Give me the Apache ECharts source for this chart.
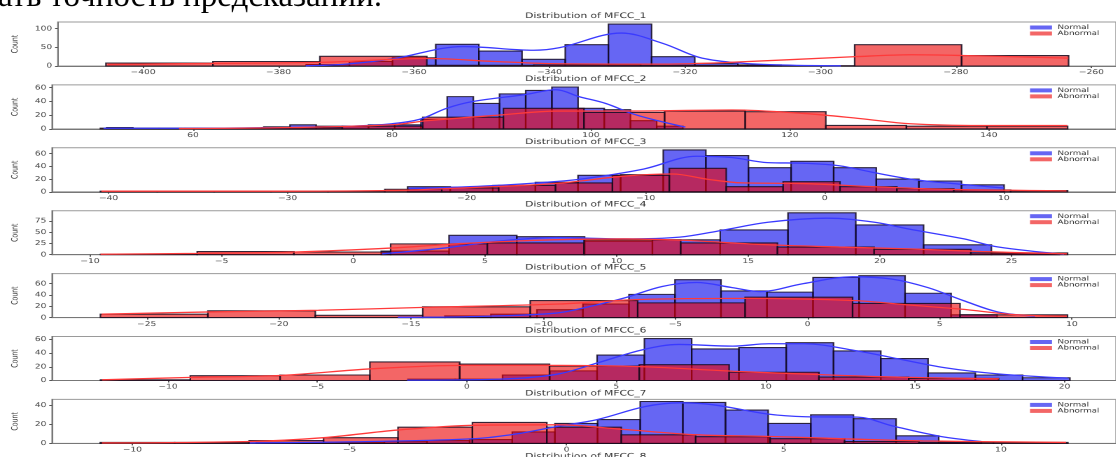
<!DOCTYPE html>
<html><head><meta charset="utf-8">
<script src="https://cdn.jsdelivr.net/npm/echarts@6/dist/echarts.min.js"></script>
<style>html,body{margin:0;padding:0;background:#fff;overflow:hidden;width:1116px;height:457px}#c{height:457px;transform-origin:0 0}</style>
</head><body><div id="c"></div>
<script>
// ---------- data ----------
const classNames = ['Normal', 'Abnormal'];
const headerText = 'ать точность предсказаний.';

const mfcc1XRange = [-412.58, -256.37];
const mfcc1XTicks = [-400, -380, -360, -340, -320, -300, -280, -260];
const mfcc1YMax = 117.6;
const mfcc1YTicks = [0, 50, 100];
const mfcc1NormalBins = [-375.92, 6.374];
const mfcc1NormalCounts = [4, 12, 22, 58, 40, 18, 57, 112, 25, 7, 3];
const mfcc1AbnormalBins = [-405.48, 15.79];
const mfcc1AbnormalCounts = [8, 12, 26, 2, 3, 2, 1, 57, 28];
const mfcc1NormalKde = [[-376,0.5],[-370,5],[-363.2,19],[-352.7,52],[-342.3,42],[-338.5,49],[-329.4,88],[-323.2,60],[-317.9,23],[-312.7,9],[-306.4,3],[-297,0.5]];
const mfcc1AbnormalKde = [[-405.2,4],[-390,7],[-373.2,10],[-358,20],[-348,12],[-338.8,6],[-323.2,5],[-314.3,9],[-294.8,25],[-286.6,30],[-279,28],[-263.4,21]];

const mfcc2XRange = [45.83, 152.79];
const mfcc2XTicks = [60, 80, 100, 120, 140];
const mfcc2YMax = 64.05;
const mfcc2YTicks = [0, 20, 40, 60];
const mfcc2NormalBins = [51.32, 2.633];
const mfcc2NormalCounts = [2, 1, 1, 1, 1, 1, 3, 6, 4, 4, 6, 6, 14, 47, 37, 51, 56, 61, 30, 28, 12, 4];
const mfcc2AbnormalBins = [50.69, 8.103];
const mfcc2AbnormalCounts = [1, 1, 2, 4, 17, 30, 24, 26, 25, 5, 4, 4];
const mfcc2NormalKde = [[51,1],[60,1],[69.3,2],[76,4],[80,7.5],[82.8,14],[85.5,30],[88.2,40],[93.4,50],[96.5,57],[98.8,47],[101.5,37],[104.2,22],[106.7,12],[109.5,2.5]];
const mfcc2AbnormalKde = [[58.6,0.5],[70,2],[80,6],[83.6,12],[90.7,20],[96.7,26],[103.5,26],[114.2,27.5],[121.4,22.5],[127.1,15],[132.1,7.5],[139.2,5],[147.9,5]];

const mfcc3XRange = [-43.16, 16.27];
const mfcc3XTicks = [-40, -30, -20, -10, 0, 10];
const mfcc3YMax = 69.3;
const mfcc3YTicks = [0, 20, 40, 60];
const mfcc3NormalBins = [-23.30, 2.380];
const mfcc3NormalCounts = [8, 7, 10, 15, 26, 27, 66, 57, 38, 48, 38, 20, 17, 11];
const mfcc3AbnormalBins = [-40.46, 3.178];
const mfcc3AbnormalCounts = [1, 1, 1, 1, 1, 4, 6, 10, 14, 26, 37, 8, 16, 8, 5, 3, 2];
const mfcc3NormalKde = [[-23.2,5],[-19,9],[-15.1,16],[-13.1,22],[-10.1,36],[-7.15,56],[-5.2,54],[-3.2,46],[-1.2,45],[0.8,41],[2.8,30],[4.8,20],[6.75,14],[10,6]];
const mfcc3AbnormalKde = [[-40.4,1],[-30,1],[-24.2,2],[-21.2,5],[-15.1,13],[-11.1,25],[-8.5,28],[-6.6,20],[-4.6,14],[-1.2,13],[2.8,8],[6.75,4],[13.5,1.5]];

const mfcc4XRange = [-11.44, 28.97];
const mfcc4XTicks = [-10, -5, 0, 5, 10, 15, 20, 25];
const mfcc4YMax = 97.65;
const mfcc4YTicks = [0, 25, 50, 75];
const mfcc4NormalBins = [1.062, 2.575];
const mfcc4NormalCounts = [8, 43, 40, 30, 33, 55, 93, 66, 22, 3];
const mfcc4AbnormalBins = [-9.60, 3.673];
const mfcc4AbnormalCounts = [1, 7, 6, 24, 26, 33, 26, 17, 12, 4];
const mfcc4NormalKde = [[1.1,2],[3.5,15],[5.5,30],[7.7,38],[10.3,35],[12.4,39],[14,54],[15.75,72],[18,81],[19.8,72],[21.1,57],[23.2,35],[24.5,17],[27,1]];
const mfcc4AbnormalKde = [[-9.6,1],[-5.9,3],[-2.2,6],[1.5,15],[4.2,25],[7.6,33],[10.3,35],[12.5,32],[15.75,22],[18.45,17],[21.1,13],[23.85,7],[27.1,2]];

const mfcc5XRange = [-28.58, 11.67];
const mfcc5XTicks = [-25, -20, -15, -10, -5, 0, 5, 10];
const mfcc5YMax = 77.7;
const mfcc5YTicks = [0, 20, 40, 60];
const mfcc5NormalBins = [-15.46, 1.741];
const mfcc5NormalCounts = [1, 3, 6, 14, 24, 41, 67, 47, 45, 71, 74, 43, 5];
const mfcc5AbnormalBins = [-26.75, 4.065];
const mfcc5AbnormalCounts = [6, 12, 4, 19, 30, 26, 36, 25, 5];
const mfcc5NormalKde = [[-15.5,0.5],[-12.5,2],[-9.5,8],[-8.2,20],[-6.9,35],[-5.5,55],[-4.2,62],[-2.85,53],[-1.8,46],[-0.16,60],[1.7,72],[3.2,68],[4.55,53],[5.9,30],[7.2,10],[8.6,2.5]];
const mfcc5AbnormalKde = [[-26.7,6],[-22.6,10],[-18.5,13],[-14.5,18],[-9.4,24],[-6.35,32],[-2.3,34],[1.8,30],[3.9,22],[5.8,15],[7.9,5],[9.8,2.5]];

const mfcc6XRange = [-13.88, 21.72];
const mfcc6XTicks = [-10, -5, 0, 5, 10, 15, 20];
const mfcc6YMax = 64.05;
const mfcc6YTicks = [0, 20, 40, 60];
const mfcc6NormalBins = [-1.97, 1.582];
const mfcc6NormalCounts = [2, 2, 8, 14, 37, 61, 46, 48, 55, 43, 32, 11, 8, 4];
const mfcc6AbnormalBins = [-12.26, 3.005];
const mfcc6AbnormalCounts = [1, 7, 8, 27, 24, 21, 23, 12, 5, 3];
const mfcc6NormalKde = [[-2,0.5],[1.1,2],[3,9],[4.4,26],[5.9,45],[7.1,52.5],[8.9,50],[10.1,53.5],[11.3,53.5],[13,43.5],[14.2,33.5],[16,18.5],[17.8,9.5],[20.1,3.5]];
const mfcc6AbnormalKde = [[-12.2,1],[-9.2,4.5],[-6.2,7.5],[-3.2,17],[-0.1,22],[3.1,22],[5.9,20],[8.9,13.5],[11.85,8.5],[14.8,4.5],[17.8,2.5]];

const mfcc7XRange = [-11.85, 12.65];
const mfcc7XTicks = [-10, -5, 0, 5, 10];
const mfcc7YMax = 46.2;
const mfcc7YTicks = [0, 20, 40];
const mfcc7NormalBins = [-7.144, 0.982];
const mfcc7NormalCounts = [1, 1, 1, 2, 3, 4, 12, 21, 25, 44, 43, 35, 21, 30, 26, 8, 2];
const mfcc7AbnormalBins = [-10.74, 1.714];
const mfcc7AbnormalCounts = [1, 1, 3, 6, 17, 22, 17, 9, 7, 5, 2, 1, 1];
const mfcc7NormalKde = [[-7.3,0.5],[-4.5,2],[-2.1,5],[-1.15,10],[-0.2,18],[0.7,25],[1.8,38.6],[2.6,42.6],[3.4,40.4],[4.6,31],[5.5,28],[6.7,27.6],[7.5,18.4],[8.6,7.4],[9.55,2]];
const mfcc7AbnormalKde = [[-10.7,0.5],[-7.3,2],[-5.6,6],[-3.9,14],[-2.1,19],[-0.2,19.5],[1.3,14.7],[3,9],[4.6,7.4],[6.4,4.8],[8.2,2.6],[11.5,1]];

// ---------- assembly ----------
const panels = [
  [mfcc1XRange, mfcc1XTicks, mfcc1YMax, mfcc1YTicks, mfcc1NormalBins, mfcc1NormalCounts, mfcc1AbnormalBins, mfcc1AbnormalCounts, mfcc1NormalKde, mfcc1AbnormalKde],
  [mfcc2XRange, mfcc2XTicks, mfcc2YMax, mfcc2YTicks, mfcc2NormalBins, mfcc2NormalCounts, mfcc2AbnormalBins, mfcc2AbnormalCounts, mfcc2NormalKde, mfcc2AbnormalKde],
  [mfcc3XRange, mfcc3XTicks, mfcc3YMax, mfcc3YTicks, mfcc3NormalBins, mfcc3NormalCounts, mfcc3AbnormalBins, mfcc3AbnormalCounts, mfcc3NormalKde, mfcc3AbnormalKde],
  [mfcc4XRange, mfcc4XTicks, mfcc4YMax, mfcc4YTicks, mfcc4NormalBins, mfcc4NormalCounts, mfcc4AbnormalBins, mfcc4AbnormalCounts, mfcc4NormalKde, mfcc4AbnormalKde],
  [mfcc5XRange, mfcc5XTicks, mfcc5YMax, mfcc5YTicks, mfcc5NormalBins, mfcc5NormalCounts, mfcc5AbnormalBins, mfcc5AbnormalCounts, mfcc5NormalKde, mfcc5AbnormalKde],
  [mfcc6XRange, mfcc6XTicks, mfcc6YMax, mfcc6YTicks, mfcc6NormalBins, mfcc6NormalCounts, mfcc6AbnormalBins, mfcc6AbnormalCounts, mfcc6NormalKde, mfcc6AbnormalKde],
  [mfcc7XRange, mfcc7XTicks, mfcc7YMax, mfcc7YTicks, mfcc7NormalBins, mfcc7NormalCounts, mfcc7AbnormalBins, mfcc7AbnormalCounts, mfcc7NormalKde, mfcc7AbnormalKde]
];

function histData(bins, counts) {
  return counts.map((c, i) => [bins[0] + i * bins[1], bins[0] + (i + 1) * bins[1], c]);
}

// The reference figure is stretched horizontally; draw in a narrower space and stretch it.
const SX = 1.4;
const W = 1116 / SX;
const el = document.getElementById('c');
el.style.width = W + 'px';
el.style.transform = 'scaleX(' + SX + ')';

const FONT = 'DejaVu Sans';
const GRID_LEFT = 51.5 / SX, GRID_WIDTH = 1068.5 / SX, TOP0 = 22, STEP = 62.9, H = 44;
const BLUE_FILL = 'rgba(0,0,235,0.6)', RED_FILL = 'rgba(235,0,0,0.6)';
const BLUE_LINE = '#3a3aff', RED_LINE = '#ff3a3a';

function makeRender(fill) {
  return function (params, api) {
    const a = api.coord([api.value(0), api.value(2)]);
    const b = api.coord([api.value(1), 0]);
    return {
      type: 'rect',
      shape: { x: a[0], y: a[1], width: b[0] - a[0], height: b[1] - a[1] },
      style: { fill: fill, stroke: 'rgba(20,10,30,0.85)', lineWidth: 1.1 }
    };
  };
}

const minus = v => String(v).replace('-', '\u2212');
const grid = [], xAxis = [], yAxis = [], series = [], legend = [], title = [];

panels.forEach((p, i) => {
  const [xr, xt, ym, yt, nb, nc, ab, ac, nk, ak] = p;
  const top = TOP0 + STEP * i;
  grid.push({ left: GRID_LEFT, width: GRID_WIDTH, top: top, height: H, show: true, borderColor: '#9a9a9a', borderWidth: 1, backgroundColor: 'transparent' });
  xAxis.push({
    type: 'value', gridIndex: i, min: xr[0], max: xr[1],
    axisLine: { show: true, onZero: false, lineStyle: { color: '#777', width: 1 } },
    axisTick: { show: true, customValues: xt, length: 2, lineStyle: { color: '#555' } },
    axisLabel: { customValues: xt, fontSize: 6.5, color: '#444', margin: 3, fontFamily: FONT, formatter: minus },
    splitLine: { show: false }
  });
  yAxis.push({
    type: 'value', gridIndex: i, min: 0, max: ym,
    name: 'Count', nameLocation: 'middle', nameGap: 23, nameRotate: 90,
    nameTextStyle: { fontSize: 6.2, color: '#333', fontFamily: FONT },
    axisLine: { show: true, onZero: false, lineStyle: { color: '#777', width: 1 } },
    axisTick: { show: true, customValues: yt, length: 2, lineStyle: { color: '#555' } },
    axisLabel: { customValues: yt, fontSize: 6.5, color: '#444', margin: 4, fontFamily: FONT },
    splitLine: { show: false }
  });
  series.push({
    type: 'custom', name: classNames[0], xAxisIndex: i, yAxisIndex: i,
    renderItem: makeRender(BLUE_FILL), data: histData(nb, nc),
    encode: { x: [0, 1], y: 2 }, itemStyle: { color: BLUE_FILL }, z: 2
  });
  series.push({
    type: 'custom', name: classNames[1], xAxisIndex: i, yAxisIndex: i,
    renderItem: makeRender(RED_FILL), data: histData(ab, ac),
    encode: { x: [0, 1], y: 2 }, itemStyle: { color: RED_FILL }, z: 3
  });
  series.push({
    type: 'line', name: classNames[0] + ' KDE', xAxisIndex: i, yAxisIndex: i,
    data: nk, smooth: 0.35, symbol: 'none', lineStyle: { color: BLUE_LINE, width: 1.3 }, z: 4
  });
  series.push({
    type: 'line', name: classNames[1] + ' KDE', xAxisIndex: i, yAxisIndex: i,
    data: ak, smooth: 0.35, symbol: 'none', lineStyle: { color: RED_LINE, width: 1.3 }, z: 4
  });
  legend.push({
    data: classNames, orient: 'vertical', left: 1030 / SX, top: top + 2.5, padding: 0,
    itemWidth: 22 / SX, itemHeight: 4, itemGap: 0, icon: 'rect', selectedMode: false,
    textStyle: { fontSize: 6.2, lineHeight: 6, color: '#333', fontFamily: FONT, padding: [0, 0, 0, -1] }
  });
});

for (let i = 0; i < 8; i++) {
  const top = TOP0 + STEP * i;
  title.push({
    text: 'Distribution of MFCC_' + (i + 1), left: GRID_LEFT + GRID_WIDTH / 2, top: top - 10,
    textAlign: 'center', padding: 0,
    textStyle: { fontSize: 7.6, fontWeight: 'normal', color: '#333', fontFamily: FONT }
  });
}

const chart = echarts.init(el, null, { renderer: 'canvas', devicePixelRatio: 2, width: W, height: 457 });
chart.setOption({
  animation: false,
  backgroundColor: '#fff',
  title: title, grid: grid, xAxis: xAxis, yAxis: yAxis, legend: legend, series: series,
  graphic: [{
    type: 'text', x: -2 / SX, y: -2.6, scaleX: 1 / SX,
    style: { text: headerText, font: '33px "Liberation Serif"', fill: '#000', verticalAlign: 'middle', align: 'left' }
  }]
});
</script></body></html>
